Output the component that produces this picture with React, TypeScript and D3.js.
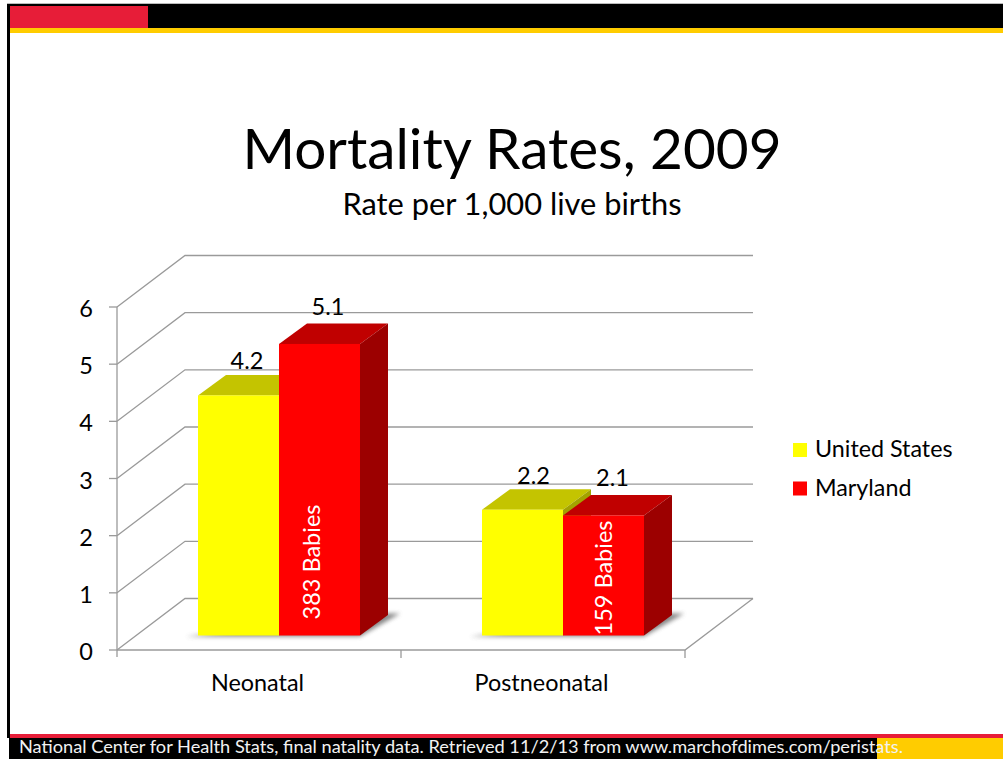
import React from "react";
import * as d3 from "d3";

const categories = ["Neonatal", "Postneonatal"];
const seriesNames = ["United States", "Maryland"];
const usValues = [4.2, 2.2];
const mdValues = [5.1, 2.1];
const barNotes = ["383 Babies", "159 Babies"];
const yTicks = [0, 1, 2, 3, 4, 5, 6];
const seriesColors = ["#ffff00", "#ff0000"];
const topColors = ["#c4c400", "#c00000"];
const sideColors = ["#a3a300", "#9c0000"];

const FONT = "Lato, 'Open Sans', sans-serif";
const GRID = "#9a9a9a";

const y = d3.scaleLinear().domain([0, 6]).range([650, 307]);
const x = d3.scaleBand().domain(categories).range([117, 685]);
const wall = { dx: 68, dy: -51.5 };
const barOffset = { dx: 20.5, dy: -14.5 };
const depth = { dx: 28, dy: -20.5 };
const barWidth = 81;
const usLabelShift = [8.5, 11];
const mdLabelShift = [8.5, 9];
const mdLabelLift = [8, 9];
const noteShift = [0, 8];
const noteLift = [16, 0];

function Bar({ x0, value, s }: { x0: number; value: number; s: number }) {
  const b = y(0) + barOffset.dy;
  const t = y(value) + barOffset.dy;
  const x1 = x0 + barWidth;
  const { dx, dy } = depth;
  return (
    <g>
      <polygon points={`${x0},${t} ${x0 + dx},${t + dy} ${x1 + dx},${t + dy} ${x1},${t}`} fill={topColors[s]} />
      <polygon points={`${x1},${t} ${x1 + dx},${t + dy} ${x1 + dx},${b + dy} ${x1},${b}`} fill={sideColors[s]} />
      <rect x={x0} y={t} width={barWidth} height={b - t} fill={seriesColors[s]} />
    </g>
  );
}

export default function App() {
  const gridPts = (v: number) =>
    `${x.range()[0]},${y(v)} ${x.range()[0] + wall.dx},${y(v) + wall.dy} ${x.range()[1] + wall.dx},${y(v) + wall.dy}`;
  return (
    <svg width={1003} height={759} style={{ position: "absolute", left: 0, top: 0, background: "#fff" }} fontFamily={FONT}>
      <defs>
        <filter id="sh" x="-10%" y="-100%" width="120%" height="300%">
          <feGaussianBlur stdDeviation="2" />
        </filter>
      </defs>

      {/* slide frame */}
      <rect x={7} y={3} width={3} height={735} fill="#000" />
      <rect x={7} y={3} width={996} height={1} fill="#bbb" />
      <rect x={9} y={4} width={994} height={25} fill="#000" />
      <rect x={10} y={6} width={138} height={22} fill="#e71d38" />
      <rect x={10} y={28} width={993} height={5} fill="#ffcc00" />
      <rect x={10} y={734} width={993} height={4} fill="#e71d38" />
      <rect x={9} y={738} width={868} height={21} fill="#000" />
      <rect x={877} y={738} width={126} height={21} fill="#ffcc00" />
      <text x={19} y={753} fontSize={18.2} fill="#f2f2f2">
        National Center for Health Stats, final natality data. Retrieved 11/2/13 from www.marchofdimes.com/peristats.
      </text>

      {/* titles */}
      <text x={512} y={169} textAnchor="middle" fontSize={56.7} fill="#000">Mortality Rates, 2009</text>
      <text x={512} y={215} textAnchor="middle" fontSize={30.8} fill="#000">Rate per 1,000 live births</text>

      {/* walls */}
      {yTicks.map((v) => (
        <polyline key={v} points={gridPts(v)} fill="none" stroke={GRID} strokeWidth={1.3} />
      ))}
      <polyline
        points={`${x.range()[0]},${y(0)} ${x.range()[1]},${y(0)} ${x.range()[1] + wall.dx},${y(0) + wall.dy}`}
        fill="none" stroke={GRID} strokeWidth={1.3}
      />
      <line x1={117} x2={117} y1={y(0) + 7} y2={y(6)} stroke={GRID} strokeWidth={1.3} />
      {yTicks.map((v) => (
        <g key={v}>
          <line x1={109} x2={117} y1={y(v)} y2={y(v)} stroke={GRID} strokeWidth={1.3} />
          <text x={93} y={y(v) + 10} fontSize={23.5} fill="#000" textAnchor="end">{v}</text>
        </g>
      ))}
      {[...categories.map((c) => x(c)!), x.range()[1]].slice(1).map((px) => (
        <line key={px} x1={px} x2={px} y1={y(0)} y2={y(0) + 8} stroke={GRID} strokeWidth={1.3} />
      ))}
      {categories.map((c) => (
        <text key={c} x={x(c)! + x.bandwidth() / 2 - 1.5} y={691} textAnchor="middle" fontSize={23.4} fill="#000">{c}</text>
      ))}

      {/* bars */}
      {categories.map((c, i) => {
        const bx = x(c)! + 81;
        const b = y(0) + barOffset.dy;
        const us = usValues[i];
        const md = mdValues[i];
        return (
          <g key={c}>
            <polygon
              points={`${bx - 12},${b + 1} ${bx + barWidth * 2},${b + 1} ${bx + barWidth * 2 + 40},${b - 22} ${bx + barWidth * 2 + 20},${b - 22}`}
              fill="#555" opacity={0.7} filter="url(#sh)"
            />
            <Bar x0={bx} value={us} s={0} />
            <Bar x0={bx + barWidth} value={md} s={1} />
            <text x={bx + barWidth / 2 + usLabelShift[i]} y={y(us) + barOffset.dy + depth.dy - 5.5} textAnchor="middle" fontSize={23.5} fill="#000">{us}</text>
            <text x={bx + barWidth * 1.5 + mdLabelShift[i]} y={y(md) + barOffset.dy + depth.dy - mdLabelLift[i]} textAnchor="middle" fontSize={23.5} fill="#000">{md}</text>
            <text
              transform={`translate(${bx + barWidth * 1.5 + noteShift[i]},${b - noteLift[i]}) rotate(-90)`}
              fontSize={23.5} fill="#fff"
            >{barNotes[i]}</text>
          </g>
        );
      })}

      {/* legend */}
      {seriesNames.map((n, i) => (
        <g key={n}>
          <rect x={793} y={443 + i * 38.5} width={14} height={14} fill={seriesColors[i]} />
          <text x={815} y={457 + i * 38.5} fontSize={23.3} fill="#000">{n}</text>
        </g>
      ))}
    </svg>
  );
}
